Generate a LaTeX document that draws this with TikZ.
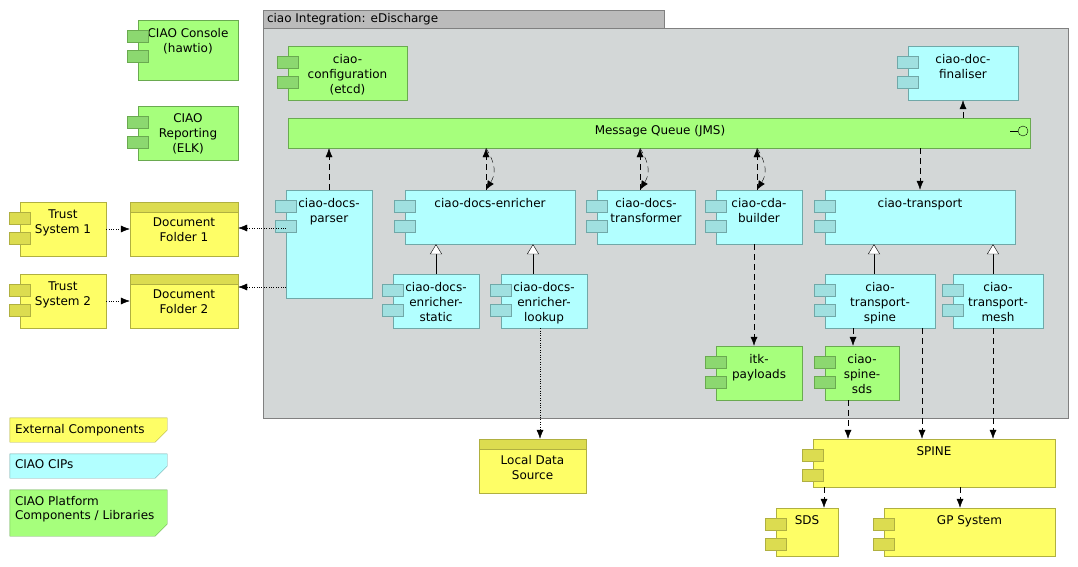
\documentclass[tikz,border=0pt]{standalone}
\usepackage{fontspec}
\setmainfont{DejaVu Sans}
\usetikzlibrary{fit,arrows.meta,calc}
\definecolor{yf}{HTML}{FEFE66}\definecolor{yd}{HTML}{B0B040}\definecolor{yt}{HTML}{DCDC50}
\definecolor{cf}{HTML}{B2FFFF}\definecolor{cd}{HTML}{70A8A8}\definecolor{ct}{HTML}{A0E0E0}
\definecolor{gf}{HTML}{A6FF7C}\definecolor{gd}{HTML}{6AAA50}\definecolor{gt}{HTML}{8CD870}
\tikzset{
 Y/.style={fill=yf,draw=yd},C/.style={fill=cf,draw=cd},G/.style={fill=gf,draw=gd},
 YT/.style={fill=yt,draw=yd},CT/.style={fill=ct,draw=cd},GT/.style={fill=gt,draw=gd},
 txt/.style={anchor=north,align=center,inner sep=8pt,font=\fontsize{12}{15}\selectfont},
 dsh/.style={draw,dash pattern=on 6pt off 4pt,-{Latex[length=9pt,width=7pt]}},
 dot/.style={draw,dotted,-{Latex[length=9pt,width=7pt]}},
 inh/.style={draw,-{Triangle[open,fill=white,length=10pt,width=12pt]}},
}
\newcommand\comp[7]{%
 \node[fit={(#2,#3)(#4,#5)},inner sep=0,#6] (#1) {};
 \node[txt] (#1-t) at (#1.north) {#7};
 \draw[#6T] ($(#1.north west)+(-11,10)$) rectangle +(21,12);
 \draw[#6T] ($(#1.north west)+(-11,30)$) rectangle +(21,12);}
\newcommand\fold[7]{%
 \node[fit={(#2,#3)(#4,#5)},inner sep=0] (#1) {};
 \draw[#6] (#1.north west) -- (#1.north east) -- ($(#1.south east)+(0,-12)$) -- ($(#1.south east)+(-12,0)$) -- (#1.south west) -- cycle;
 \node[txt,anchor=north west,align=left,inner sep=6pt,font=\fontsize{12}{14.5}\selectfont] (#1-t) at ($(#1.north west)+(-1,0)$) {#7};}
\newcommand\folder[6]{%
 \node[fit={(#2,#3)(#4,#5)},inner sep=0,Y] (#1) {};
 \draw[YT] (#1.north west) rectangle ($(#1.north east)+(0,10)$);
 \node[txt,inner sep=6pt] (#1-t) at ($(#1.north)+(0,10)$) {#6};}
\begin{document}
\begin{tikzpicture}[x=1pt,y=-1pt]
\useasboundingbox[fill=white] (0,0) rectangle (1078,567);
% container
\node[fit={(263,28)(1068,418)},inner sep=0,fill={rgb,255:red,211;green,215;blue,215},draw=gray] (box) {};
\node[fit={(263,10)(664,28)},inner sep=0,fill={rgb,255:red,187;green,187;blue,187},draw=gray] (hdr) {};
\node[txt,anchor=west,inner sep=4pt] (hdr-t) at (hdr.west) {ciao Integration: eDischarge};
% left
\comp{console}{138}{20}{238}{80}{G}{CIAO Console\\(hawtio)}
\comp{report}{138}{106}{238}{160}{G}{CIAO\\Reporting\\(ELK)}
\comp{trust1}{20}{202}{106}{256}{Y}{Trust\\System 1}
\comp{trust2}{20}{274}{106}{328}{Y}{Trust\\System 2}
\folder{fold1}{130}{202}{238}{256}{Document\\Folder 1}
\folder{fold2}{130}{274}{238}{328}{Document\\Folder 2}
% inside
\comp{config}{288}{46}{407}{100}{G}{ciao-\\configuration\\(etcd)}
\comp{final}{908}{46}{1018}{100}{C}{ciao-doc-\\finaliser}
\node[fit={(288,118)(1030,148)},inner sep=0,G] (mq) {};
\node[txt,anchor=center,inner sep=2pt] (mq-t) at (660,131) {Message Queue (JMS)};
\draw[black] (1010,131) -- (1018,131);
\node[circle,draw=black,fill=gf,minimum size=10pt,inner sep=0] (lolli) at (1023,131) {};
\comp{parser}{286}{190}{372}{298}{C}{ciao-docs-\\parser}
\comp{enr}{405}{190}{575}{244}{C}{ciao-docs-enricher}
\comp{trf}{597}{190}{695}{244}{C}{ciao-docs-\\transformer}
\comp{cda}{716}{190}{802}{244}{C}{ciao-cda-\\builder}
\comp{tra}{825}{190}{1015}{244}{C}{ciao-transport}
\comp{est}{393}{274}{479}{328}{C}{ciao-docs-\\enricher-\\static}
\comp{elk}{501}{274}{587}{328}{C}{ciao-docs-\\enricher-\\lookup}
\comp{tsp}{825}{274}{935}{328}{C}{ciao-\\transport-\\spine}
\comp{tme}{953}{274}{1043}{328}{C}{ciao-\\transport-\\mesh}
\comp{itk}{716}{346}{802}{400}{G}{itk-\\payloads}
\comp{sds2}{825}{346}{899}{400}{G}{ciao-\\spine-\\sds}
% bottom
\folder{lds}{479}{439}{586}{493}{Local Data\\Source}
\comp{spine}{813}{439}{1055}{487}{Y}{SPINE}
\comp{sds}{776}{508}{838}{556}{Y}{SDS}
\comp{gp}{884}{508}{1055}{556}{Y}{GP System}
% legend
\fold{l1}{10}{418}{167}{442}{Y}{External Components}
\fold{l2}{10}{454}{167}{478}{C}{CIAO CIPs}
\fold{l3}{10}{490}{167}{536}{G}{CIAO Platform\\Components / Libraries}
% connectors
\draw[dot] (trust1) -- (fold1);
\draw[dot] (trust2) -- (fold2);
\draw[dot] (parser.west |- 0,228) -- (fold1.east |- 0,228);
\draw[dot] (parser.west |- 0,287) -- (fold2.east |- 0,287);
\draw[dsh] (parser.north) -- (mq.south -| parser.north);
\foreach \n/\x in {enr/486,trf/640,cda/757}{
 \draw[dsh] (\n.north -| \x,0) -- (mq.south -| \x,0);
 \draw[dsh] (mq.south -| \x,0) .. controls ($(mq.south -| \x,0)+(10,16)$) and ($(\n.north -| \x,0)+(10,-16)$) .. (\n.north -| \x,0);}
\draw[dsh] (mq.south -| tra.north) -- (tra.north);
\draw[dsh] (mq.north -| final.south) -- (final.south);
\draw[inh] (est.north -| 436,0) -- (enr.south -| 436,0);
\draw[inh] (elk.north -| 533,0) -- (enr.south -| 533,0);
\draw[inh] (tsp.north -| 874,0) -- (tra.south -| 874,0);
\draw[inh] (tme.north -| 993,0) -- (tra.south -| 993,0);
\draw[dot] (elk.south -| 540,0) -- (lds.north -| 540,0);
\draw[dsh] (cda.south -| 754,0) -- (itk.north -| 754,0);
\draw[dsh] (tsp.south -| 853,0) -- (sds2.north -| 853,0);
\draw[dsh] (sds2.south -| 848,0) -- (spine.north -| 848,0);
\draw[dsh] (tsp.south -| 922,0) -- (spine.north -| 922,0);
\draw[dsh] (tme.south -| 993,0) -- (spine.north -| 993,0);
\draw[dsh] (spine.south -| 824,0) -- (sds.north -| 824,0);
\draw[dsh] (spine.south -| 960,0) -- (gp.north -| 960,0);
\end{tikzpicture}
\end{document}
